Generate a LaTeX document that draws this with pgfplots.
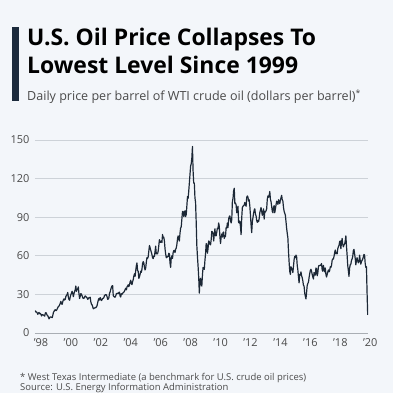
\documentclass[border=0pt]{standalone}
\usepackage{pgfplots}
\pgfplotsset{compat=1.18}
\usepackage{pgfplotstable}
\usepackage{fontspec}
\setmainfont{Open Sans}
\definecolor{bg}{HTML}{F3F6FA}
\definecolor{barc}{HTML}{1B2A3C}
\definecolor{linec}{HTML}{1C2836}
\definecolor{gridc}{HTML}{CDD2D8}
\definecolor{axc}{HTML}{A9AEB4}
\definecolor{txt}{HTML}{4A4A4A}
\pgfplotstableread[row sep=\\]{
p\\
17.5\\ 16.2\\ 16.4\\ 15.6\\ 14.5\\ 15.6\\ 15.9\\ 15.0\\ 15.3\\ 14.6\\ 13.2\\ 14.2\\ 14.2\\ 13.9\\ 13.5\\ 13.1\\ 15.4\\ 15.8\\ 14.9\\ 13.8\\ 13.4\\ 12.3\\ 11.0\\ 11.8\\
12.5\\ 12.4\\ 12.2\\ 11.9\\ 13.6\\ 15.9\\ 16.8\\ 17.7\\ 18.1\\ 17.4\\ 17.6\\ 18.6\\ 19.6\\ 20.6\\ 21.0\\ 21.8\\ 23.2\\ 24.6\\ 22.8\\ 22.3\\ 24.2\\ 25.8\\ 26.5\\ 25.6\\
26.2\\ 28.4\\ 29.2\\ 30.0\\ 31.5\\ 27.8\\ 26.0\\ 25.5\\ 28.0\\ 29.8\\ 31.0\\ 32.4\\ 31.0\\ 28.2\\ 30.5\\ 32.2\\ 33.6\\ 36.5\\ 32.4\\ 33.6\\ 34.2\\ 35.8\\ 30.5\\ 26.8\\
28.5\\ 30.6\\ 30.2\\ 29.0\\ 27.5\\ 26.8\\ 27.0\\ 27.9\\ 28.8\\ 28.3\\ 27.8\\ 27.3\\ 26.2\\ 26.6\\ 27.4\\ 27.5\\ 27.8\\ 24.3\\ 22.4\\ 21.9\\ 20.5\\ 18.8\\ 19.2\\ 19.4\\
19.8\\ 19.6\\ 20.3\\ 21.2\\ 23.5\\ 25.6\\ 26.8\\ 25.6\\ 27.5\\ 26.5\\ 25.2\\ 25.8\\ 26.8\\ 27.0\\ 27.5\\ 29.3\\ 29.5\\ 29.9\\ 29.6\\ 28.3\\ 26.2\\ 26.4\\ 27.5\\ 31.0\\
31.8\\ 33.9\\ 35.5\\ 36.6\\ 36.8\\ 29.0\\ 28.5\\ 28.0\\ 27.8\\ 28.9\\ 30.6\\ 30.8\\ 30.9\\ 30.6\\ 31.5\\ 31.8\\ 28.6\\ 28.0\\ 30.5\\ 30.0\\ 31.0\\ 31.2\\ 31.8\\ 32.6\\
33.8\\ 34.8\\ 33.5\\ 35.8\\ 36.5\\ 37.5\\ 36.0\\ 37.4\\ 39.6\\ 41.0\\ 38.5\\ 37.6\\ 39.8\\ 41.5\\ 44.2\\ 46.0\\ 44.0\\ 48.5\\ 52.2\\ 54.5\\ 48.5\\ 48.0\\ 42.5\\ 43.6\\
45.5\\ 48.0\\ 47.2\\ 49.5\\ 54.0\\ 55.5\\ 54.5\\ 51.0\\ 49.0\\ 50.5\\ 55.0\\ 58.5\\ 58.0\\ 59.2\\ 63.5\\ 68.0\\ 66.5\\ 64.5\\ 62.8\\ 61.0\\ 58.5\\ 57.8\\ 59.8\\ 59.5\\
63.5\\ 67.5\\ 61.5\\ 61.8\\ 61.5\\ 63.5\\ 67.8\\ 72.5\\ 70.5\\ 70.5\\ 71.5\\ 70.3\\ 76.5\\ 74.0\\ 74.5\\ 71.5\\ 65.5\\ 61.5\\ 58.5\\ 59.5\\ 59.0\\ 59.5\\ 62.0\\ 61.5\\
54.5\\ 51.0\\ 58.5\\ 60.0\\ 58.0\\ 62.5\\ 64.0\\ 64.2\\ 62.5\\ 65.0\\ 66.0\\ 68.8\\ 73.0\\ 75.5\\ 73.0\\ 71.5\\ 77.5\\ 81.5\\ 82.5\\ 88.5\\ 94.5\\ 94.5\\ 90.5\\ 93.5\\
95.0\\ 90.5\\ 92.0\\ 98.5\\ 106.0\\ 104.5\\ 110.0\\ 116.5\\ 123.0\\ 129.5\\ 131.5\\ 136.0\\ 145.0\\ 126.0\\ 116.5\\ 116.5\\ 105.0\\ 101.5\\ 86.0\\ 68.0\\ 59.5\\ 52.0\\ 43.5\\ 31.0\\
40.5\\ 42.5\\ 37.5\\ 36.5\\ 45.0\\ 51.0\\ 50.0\\ 49.5\\ 56.5\\ 61.5\\ 69.5\\ 69.0\\ 62.0\\ 65.5\\ 71.5\\ 71.0\\ 69.0\\ 68.5\\ 72.5\\ 79.0\\ 78.5\\ 77.5\\ 71.5\\ 76.5\\
81.0\\ 75.5\\ 75.5\\ 78.5\\ 81.5\\ 81.0\\ 85.5\\ 83.0\\ 75.0\\ 69.5\\ 74.5\\ 77.0\\ 74.5\\ 78.0\\ 78.5\\ 73.5\\ 75.5\\ 75.0\\ 82.0\\ 81.5\\ 85.5\\ 82.0\\ 88.5\\ 90.5\\
91.0\\ 87.5\\ 85.5\\ 88.0\\ 102.0\\ 104.5\\ 110.5\\ 112.5\\ 100.5\\ 101.0\\ 99.5\\ 93.5\\ 96.5\\ 98.5\\ 86.0\\ 85.5\\ 87.0\\ 82.5\\ 76.5\\ 89.5\\ 97.5\\ 98.5\\ 99.0\\ 99.5\\
101.5\\ 99.5\\ 98.5\\ 105.5\\ 106.5\\ 105.5\\ 102.5\\ 103.5\\ 98.5\\ 91.5\\ 84.0\\ 78.0\\ 86.5\\ 89.5\\ 93.0\\ 95.5\\ 96.5\\ 92.5\\ 91.0\\ 87.5\\ 86.0\\ 87.5\\ 86.5\\ 89.0\\
93.5\\ 95.5\\ 97.5\\ 94.5\\ 91.5\\ 93.5\\ 96.5\\ 88.5\\ 94.5\\ 94.0\\ 95.0\\ 96.5\\ 104.0\\ 106.5\\ 105.5\\ 107.0\\ 110.0\\ 104.0\\ 102.0\\ 98.5\\ 94.5\\ 93.5\\ 97.5\\ 99.0\\
93.5\\ 96.5\\ 99.5\\ 102.5\\ 101.0\\ 100.0\\ 103.5\\ 101.5\\ 100.5\\ 103.5\\ 105.0\\ 107.0\\ 103.5\\ 102.5\\ 97.5\\ 94.5\\ 93.0\\ 91.5\\ 86.5\\ 81.5\\ 77.5\\ 74.0\\ 63.5\\ 55.0\\
48.0\\ 45.5\\ 51.5\\ 50.0\\ 49.5\\ 47.0\\ 52.0\\ 57.0\\ 59.5\\ 58.5\\ 60.5\\ 59.5\\ 52.5\\ 49.0\\ 43.5\\ 39.0\\ 45.5\\ 45.0\\ 47.5\\ 44.5\\ 43.0\\ 40.5\\ 37.0\\ 36.5\\
31.0\\ 28.5\\ 26.5\\ 31.5\\ 37.0\\ 38.5\\ 39.5\\ 43.0\\ 46.0\\ 48.5\\ 49.5\\ 48.0\\ 45.5\\ 43.5\\ 42.0\\ 47.0\\ 45.0\\ 45.0\\ 50.5\\ 50.0\\ 44.5\\ 46.5\\ 51.5\\ 52.5\\
52.5\\ 52.5\\ 53.0\\ 54.0\\ 49.0\\ 48.0\\ 52.5\\ 49.5\\ 47.5\\ 50.5\\ 45.5\\ 43.5\\ 45.5\\ 47.5\\ 49.0\\ 47.5\\ 48.5\\ 51.5\\ 51.0\\ 52.5\\ 56.5\\ 57.5\\ 57.5\\ 59.5\\
62.5\\ 64.5\\ 61.5\\ 62.5\\ 61.5\\ 65.5\\ 67.0\\ 68.0\\ 71.0\\ 71.5\\ 65.5\\ 70.5\\ 73.5\\ 69.0\\ 67.0\\ 68.5\\ 69.0\\ 71.5\\ 75.5\\ 67.5\\ 60.5\\ 52.5\\ 48.5\\ 44.0\\
50.5\\ 53.0\\ 53.5\\ 56.5\\ 57.5\\ 59.5\\ 64.0\\ 65.0\\ 61.5\\ 58.0\\ 53.0\\ 56.5\\ 58.5\\ 56.0\\ 54.5\\ 55.5\\ 60.5\\ 56.5\\ 53.5\\ 55.5\\ 56.5\\ 57.5\\ 59.0\\ 61.0\\
60.5\\ 54.0\\ 51.0\\ 51.5\\ 31.5\\ 14.0\\
}\oil
\begin{document}
\begin{tikzpicture}
\fill[bg] (0,0) rectangle (393bp,393bp);
\useasboundingbox (0,0) rectangle (393bp,393bp);
\fill[barc] (12bp,292bp) rectangle (19bp,366bp);
\node[anchor=base west, inner sep=0pt, font=\bfseries\fontsize{23}{28}\selectfont, text=black] at (27bp,347bp) {U.S. Oil Price Collapses To};
\node[anchor=base west, inner sep=0pt, font=\bfseries\fontsize{23}{28}\selectfont, text=black] at (27bp,319bp) {Lowest Level Since 1999};
\node[anchor=base west, inner sep=0pt, font=\fontsize{12.6}{15}\selectfont, text=txt] at (27bp,292.5bp) {Daily price per barrel of WTI crude oil (dollars per barrel)\textsuperscript{*}};
\node[anchor=base west, inner sep=0pt, font=\fontsize{9.5}{11}\selectfont, text=txt] at (20bp,13bp) {* West Texas Intermediate (a benchmark for U.S. crude oil prices)};
\node[anchor=base west, inner sep=0pt, font=\fontsize{9.5}{11}\selectfont, text=txt] at (20bp,2.6bp) {Source: U.S. Energy Information Administration};
\begin{axis}[
  at={(35bp,60bp)}, anchor=south west,
  scale only axis, width=333bp, height=193bp,
  xmin=0, xmax=267, ymin=0, ymax=150,
  axis line style={draw=none},
  major tick length=0pt,
  ytick={30,60,90,120,150},
  ymajorgrids, grid style={gridc, line width=0.8pt},
  extra y ticks={0}, extra y tick style={grid style={axc, line width=1pt}},
  xtick={0,24,...,264},
  xticklabels={'98,'00,'02,'04,'06,'08,'10,'12,'14,'16,'18,'20},
  ticklabel style={font=\fontsize{11}{13}\selectfont, text=txt},
  xticklabel style={xshift=6bp, yshift=-2bp},
  yticklabel style={xshift=-2bp},
  /pgf/number format/assume math mode=true,
]
\addplot[linec, line width=1.2pt, line join=round] table[x expr=\coordindex*0.5+0.25, y=p]{\oil};
\end{axis}
\end{tikzpicture}
\end{document}
